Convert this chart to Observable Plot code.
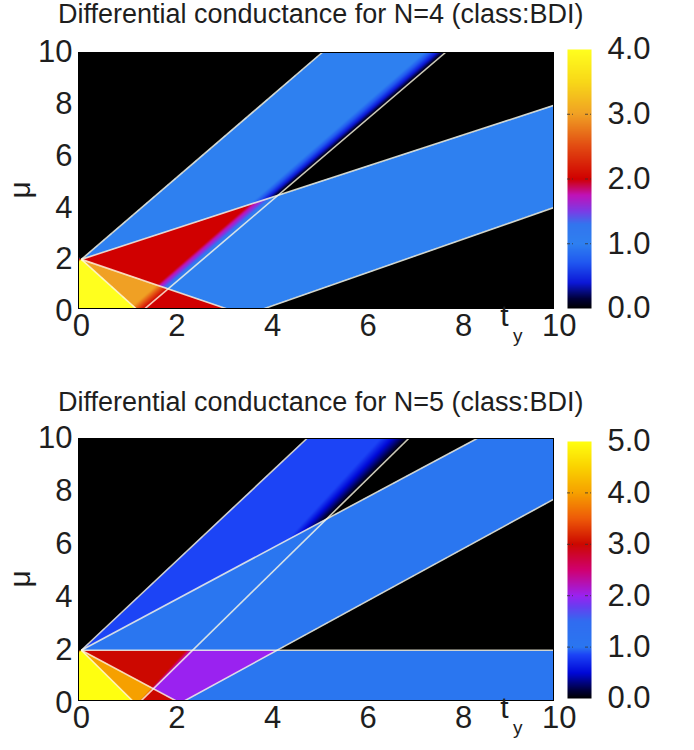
<!DOCTYPE html>
<html>
<head>
<meta charset="utf-8">
<script src="https://cdn.jsdelivr.net/npm/d3@7"></script>
<script src="https://cdn.jsdelivr.net/npm/@observablehq/plot@0.6"></script>
<style>
  html, body { margin: 0; padding: 0; background: #fff; }
  #root { position: relative; width: 694px; height: 750px; overflow: hidden; font-family: "Liberation Sans", Arial, sans-serif; color: #1e1e1e; }
  #root svg { position: absolute; }
  .title { position: absolute; left: 58px; font-size: 27px; line-height: 27px; white-space: nowrap; z-index: 5; }
</style>
</head>
<body>
<div id="root"></div>
<script>
// ---------- data ----------
const panelTitles = [
  "Differential conductance for N=4 (class:BDI)",
  "Differential conductance for N=5 (class:BDI)"
];
const xTicks = [0, 2, 4, 6, 8, 10];
const yTicks = [0, 2, 4, 6, 8, 10];
const cbTicksN4 = [0, 1, 2, 3, 4];
const cbTicksN5 = [0, 1, 2, 3, 4, 5];

// boundary lines, endpoints [t1, mu1, t2, mu2]; a channel is open between its lower and upper line
const upperN4 = [[0, 2, 5.04, 10], [0, 2, 9.88, 7.95], [0, 2, 3.18, 0], [0, 2, 1.2, 0]];
const lowerN4 = [[1.27, 0, 7.62, 10], [3.68, 0, 9.88, 4.0], null, null];
// soft edge just above each lower line: width in mu = base + perMu * mu
const rampBaseN4 = [0.5, 0, 0, 0];
const rampPerMuN4 = [0.02, 0, 0, 0];

const upperN5 = [[0, 2, 4.72, 10], [0, 2, 8.28, 10], [0, 2, 9.88, 2], [0, 2, 2.07, 0], [0, 2, 1.12, 0]];
const lowerN5 = [[1.2, 0, 6.85, 10], [2.07, 0, 9.88, 7.7], null, null, null];
const rampBaseN5 = [0.05, 0, 0, 0, 0];
const rampPerMuN5 = [0.1, 0, 0, 0, 0];
// levels seen above the mu=2 line in the N=5 panel: [upper band alone, with lower band]
const bandLevelsN5 = [0.85, 1.0];

// colour bars
const cmapStopsN4 = [0, 0.15, 0.4, 0.7, 1.0, 1.3, 1.5, 1.75, 2.0, 2.5, 3.0, 3.5, 4.0];
const cmapColorsN4 = ["#000000", "#000038", "#0c18d8", "#2056f0", "#2e80f0", "#3275ee", "#7a3ce6", "#c012b8", "#d00000", "#e24a12", "#f0a024", "#f8d818", "#ffff1e"];
const cmapStopsN5 = [0, 0.15, 0.5, 0.85, 1.0, 1.5, 1.8, 2.0, 2.5, 3.0, 3.5, 4.0, 4.5, 5.0];
const cmapColorsN5 = ["#000000", "#000038", "#0008d8", "#1c44f6", "#2a76f0", "#306cf0", "#6a3cf0", "#9a22f0", "#d00070", "#cc0800", "#ee5a08", "#f6a000", "#fad200", "#ffff10"];

// ---------- helpers ----------
const xDomain = [-0.06, 9.88];
const yDomain = [0.1, 10];
const font = "Liberation Sans, Arial, sans-serif";
const ink = "#1e1e1e";
const tickFont = 31;

function lineAt(seg, t) {
  const [t1, m1, t2, m2] = seg;
  return m1 + (m2 - m1) * (t - t1) / (t2 - t1);
}
function channelOpen(up, lo, base, perMu, t, mu) {
  if (mu >= lineAt(up, t)) return 0;
  if (!lo) return 1;
  const d = mu - lineAt(lo, t);
  if (d <= 0) return 0;
  const w = base + perMu * Math.max(mu, 0);
  return w > 0 ? Math.min(1, d / w) : 1;
}
function valueN4(t, mu) {
  let s = 0;
  upperN4.forEach((u, i) => { s += channelOpen(u, lowerN4[i], rampBaseN4[i], rampPerMuN4[i], t, mu); });
  return s;
}
function valueN5(t, mu) {
  const o = upperN5.map((u, i) => channelOpen(u, lowerN5[i], rampBaseN5[i], rampPerMuN5[i], t, mu));
  if (o[2] === 0) {
    if (o[1] > 0) return bandLevelsN5[1];
    return o[0] * bandLevelsN5[0];
  }
  return o.reduce((a, b) => a + b, 0);
}
function colorScale(stops, colors) {
  const max = stops[stops.length - 1];
  const s = d3.scaleLinear().domain(stops.map(v => v / max)).range(colors).interpolate(d3.interpolateRgb).clamp(true);
  return {type: "linear", domain: [0, max], interpolate: (t) => s(t)};
}
function segs(uppers, lowers) {
  return uppers.concat(lowers).filter(d => d).map(([t1, m1, t2, m2]) => ({t1, m1, t2, m2}));
}

function mainPlot({valueFn, lines, color, top, frameH}) {
  const svg = Plot.plot({
    width: 600, height: 52 + frameH + 45,
    marginLeft: 78, marginRight: 47, marginTop: 52, marginBottom: 45,
    x: {domain: xDomain, axis: null},
    y: {domain: yDomain, axis: null},
    color,
    style: {background: "transparent", fontFamily: font, color: ink},
    marks: [
      Plot.raster({x1: xDomain[0], x2: xDomain[1], y1: yDomain[0], y2: yDomain[1], fill: valueFn, pixelSize: 1}),
      Plot.link(lines, {x1: "t1", y1: "m1", x2: "t2", y2: "m2", stroke: "#fffbe6", strokeOpacity: 0.8, strokeWidth: 1.6, clip: true}),
      Plot.frame({stroke: "#000", strokeWidth: 1}),
      Plot.text(xTicks, {x: d => d, text: d => String(d), frameAnchor: "bottom", dy: 27, fontSize: tickFont, fill: ink}),
      Plot.text(yTicks, {y: d => d, text: d => String(d), frameAnchor: "left", dx: -6, textAnchor: "end", fontSize: tickFont, fill: ink}),
      Plot.text(["μ"], {frameAnchor: "left", dx: -58, dy: 18, rotate: -90, fontSize: 30, fill: ink}),
      Plot.text(["t"], {frameAnchor: "bottom-right", dx: -45, dy: 17, fontSize: 30, fill: ink}),
      Plot.text(["y"], {frameAnchor: "bottom-right", dx: -31, dy: 33, fontSize: 19, fill: ink})
    ]
  });
  svg.style.left = "0px";
  svg.style.top = top + "px";
  return svg;
}

function colorbar({ticks, color, top, marginTop, frameH}) {
  const max = ticks[ticks.length - 1];
  const inner = ticks.slice(1, -1);
  const svg = Plot.plot({
    width: 134, height: marginTop + frameH + 45,
    marginLeft: 7, marginRight: 103, marginTop, marginBottom: 45,
    x: {domain: [0, 1], axis: null},
    y: {domain: [0, max], axis: null},
    color,
    style: {background: "transparent", fontFamily: font, color: ink},
    marks: [
      Plot.raster({x1: 0, x2: 1, y1: 0, y2: max, fill: (x, y) => y, pixelSize: 1}),
      Plot.ruleY(inner, {x1: 0, x2: 0.25, stroke: "#333", strokeDasharray: "3,2", strokeOpacity: 0.8}),
      Plot.ruleY(inner, {x1: 0.75, x2: 1, stroke: "#333", strokeDasharray: "3,2", strokeOpacity: 0.8}),
      Plot.text(ticks, {y: d => d, text: d => d.toFixed(1), frameAnchor: "right", dx: 16, textAnchor: "start", fontSize: tickFont, fill: ink})
    ]
  });
  svg.style.left = "560px";
  svg.style.top = top + "px";
  return svg;
}

// ---------- build ----------
const root = document.getElementById("root");
const colorN4 = colorScale(cmapStopsN4, cmapColorsN4);
const colorN5 = colorScale(cmapStopsN5, cmapColorsN5);

root.appendChild(mainPlot({valueFn: valueN4, lines: segs(upperN4, lowerN4), color: colorN4, top: 0, frameH: 256}));
root.appendChild(colorbar({ticks: cbTicksN4, color: colorN4, top: 0, marginTop: 49, frameH: 259}));
root.appendChild(mainPlot({valueFn: valueN5, lines: segs(upperN5, lowerN5), color: colorN5, top: 386, frameH: 262}));
root.appendChild(colorbar({ticks: cbTicksN5, color: colorN5, top: 386, marginTop: 55, frameH: 257}));

const t1 = document.createElement("div");
t1.className = "title"; t1.style.top = "1px"; t1.textContent = panelTitles[0];
root.appendChild(t1);
const t2 = document.createElement("div");
t2.className = "title"; t2.style.top = "389px"; t2.textContent = panelTitles[1];
root.appendChild(t2);
</script>
</body>
</html>
